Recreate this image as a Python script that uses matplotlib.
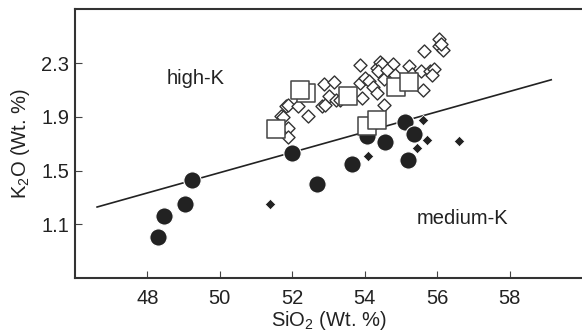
import matplotlib
matplotlib.use("Agg")
import matplotlib.pyplot as plt

plt.rcParams['font.family'] = ['Liberation Sans', 'DejaVu Sans']
plt.rcParams['mathtext.fontset'] = 'custom'
plt.rcParams['mathtext.rm'] = 'Liberation Sans'
plt.rcParams['mathtext.default'] = 'regular'

# Medium-K basalts (large filled circles)
circ_x = [48.30, 48.46, 49.04, 49.22, 52.00, 52.69, 53.66, 54.05, 54.55, 55.12, 55.35, 55.19]
circ_y = [1.01, 1.16, 1.25, 1.43, 1.63, 1.40, 1.55, 1.76, 1.71, 1.86, 1.77, 1.58]

# small filled diamonds
fdia_x = [51.39, 54.10, 55.60, 55.72, 55.43, 56.60]
fdia_y = [1.25, 1.606, 1.88, 1.73, 1.668, 1.718]

# open diamonds
odia_x = [51.69, 51.83, 51.87, 51.73, 51.88, 51.88, 52.16, 52.43, 52.87, 53.15, 52.82, 52.90,
          53.00, 53.20, 53.31, 53.87, 53.87, 53.92, 54.02, 54.12, 54.22, 54.33, 54.33,
          54.43, 54.48, 54.38, 54.53, 54.53, 54.77, 54.62, 54.84, 55.22, 55.30, 55.55,
          55.60, 55.63, 55.81, 55.91, 55.86, 56.04, 56.06, 56.16, 56.10]
odia_y = [1.904, 1.984, 1.99, 1.902, 1.817, 1.748, 1.984, 1.909, 2.146, 2.158, 1.979, 1.99,
          2.054, 2.026, 2.029, 2.283, 2.153, 2.041, 2.191, 2.166, 2.123, 2.079, 2.265,
          2.307, 2.29, 2.24, 2.183, 1.99, 2.297, 2.25, 2.215, 2.278, 2.22, 2.24,
          2.103, 2.39, 2.24, 2.253, 2.208, 2.477, 2.427, 2.397, 2.44]

# large open squares
sq_x = [51.55, 52.21, 52.37, 53.54, 54.07, 54.33, 54.87, 55.21]
sq_y = [1.812, 2.099, 2.079, 2.054, 1.835, 1.875, 2.123, 2.158]
sq_order = [0, 2, 1, 3, 4, 5, 6, 7]

# high-K / medium-K boundary
line_x = [46.61, 59.15]
line_y = [1.23, 2.176]

xticks = [48, 50, 52, 54, 56, 58]
yticks = [1.1, 1.5, 1.9, 2.3]

fig = plt.figure(figsize=(5.82, 3.31), dpi=100)
ax = fig.add_axes([75/582, 1-278.3/331, 507/582, (278.3-9.3)/331])
ax.set_xlim(46, 60)
ax.set_ylim(0.7, 2.7)

ink = '#222222'
ax.plot(line_x, line_y, color=ink, lw=1.2, zorder=1.5)
ax.scatter(circ_x, circ_y, s=155, marker='o', facecolor=ink, edgecolor='white', linewidth=0.8, zorder=2)
ax.scatter(fdia_x, fdia_y, s=28, marker='D', facecolor=ink, edgecolor='white', linewidth=0.5, zorder=2.5)
ax.scatter(odia_x, odia_y, s=44, marker='D', facecolor='white', edgecolor='#333333', linewidth=1.0, zorder=3)
ax.scatter([sq_x[i] for i in sq_order], [sq_y[i] for i in sq_order], s=170, marker='s',
           facecolor='white', edgecolor='#444444', linewidth=1.1, zorder=4)

ax.text(49.33, 2.186, 'high-K', fontsize=14.5, color=ink, ha='center', va='center')
ax.text(56.7, 1.141, 'medium-K', fontsize=14.5, color=ink, ha='center', va='center')

ax.set_xticks(xticks)
ax.set_xticklabels([str(v) for v in xticks])
ax.set_yticks(yticks)
ax.set_yticklabels([f'{v:.1f}' for v in yticks])
ax.tick_params(axis='both', direction='in', length=4.8, width=0.8, color='#444444',
               labelsize=14.5, labelcolor=ink)
ax.tick_params(axis='x', pad=8)
ax.tick_params(axis='y', pad=4)

for side in ['left', 'top', 'bottom']:
    ax.spines[side].set_linewidth(1.5)
    ax.spines[side].set_color('#333333')
ax.spines['right'].set_visible(False)

fig.text(328.5/582, 1-325.5/331, 'SiO$_2$ (Wt. %)', fontsize=14.5, color=ink, ha='center', va='baseline')
fig.text(26/582, 1-143.5/331, 'K$_2$O (Wt. %)', fontsize=14.5, color=ink, ha='center', va='baseline',
         rotation=90, rotation_mode='anchor')

fig.savefig('out.png', dpi=100)
